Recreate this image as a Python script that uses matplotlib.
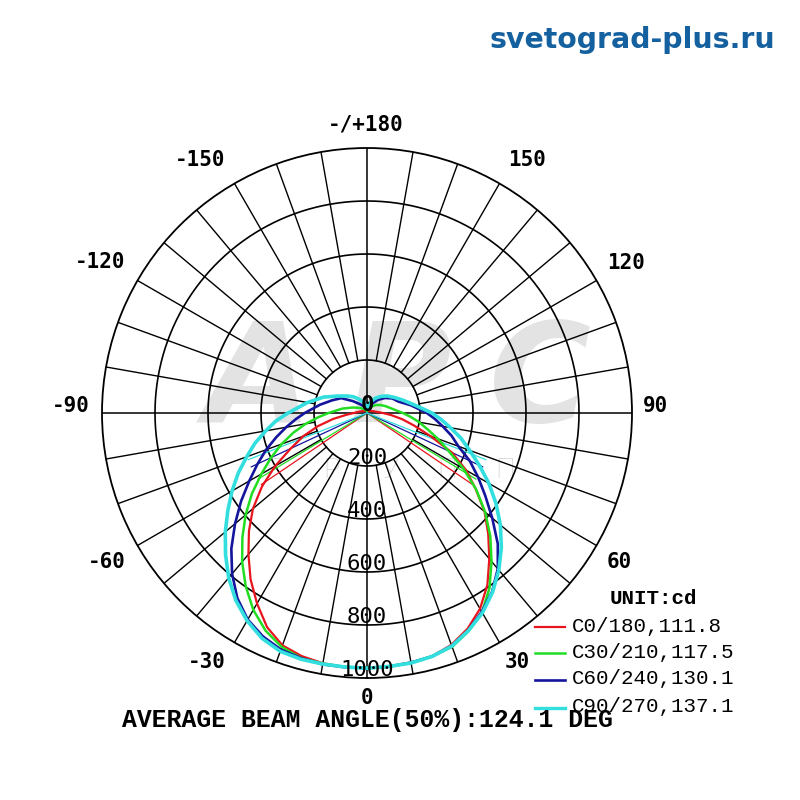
import numpy as np
import matplotlib
matplotlib.use("Agg")
import matplotlib.pyplot as plt

# ---------------- data ----------------
gamma = [0, 5, 10, 15, 20, 25, 30, 35, 40, 45, 50, 55, 60, 65, 70, 75, 80, 85, 90,
         100, 110, 120, 130, 140, 150, 160, 170, 180]

# C0/180 (red)
red_left = [962, 962, 959, 950, 933, 892, 830, 766, 696, 630, 562, 484, 400, 318, 256, 192, 130, 78, 50,
            30, 20, 15, 12, 10, 10, 10, 10, 10]
red_right = [962, 961, 957, 950, 931, 898, 853, 792, 718, 647, 579, 501, 432, 354, 255, 185, 135, 92, 60,
             32, 22, 16, 12, 10, 10, 10, 10, 10]
# C30/210 (green)
green_left = [962, 962, 960, 958, 940, 906, 858, 798, 733, 665, 598, 530, 460, 400, 343, 288, 235, 185, 145,
              95, 60, 40, 28, 20, 15, 12, 10, 10]
green_right = [962, 961, 957, 950, 939, 908, 868, 806, 731, 658, 582, 503, 420, 340, 285, 236, 200, 165, 135,
               95, 75, 60, 47, 35, 25, 18, 12, 10]
# C60/240 (blue)
blue_left = [963, 963, 963, 958, 950, 930, 900, 853, 792, 724, 650, 580, 513, 456, 405, 355, 310, 270, 235,
             180, 140, 112, 70, 45, 32, 25, 20, 18]
blue_right = [962, 960, 956, 951, 935, 905, 866, 823, 768, 698, 617, 545, 484, 428, 367, 330, 290, 257, 226,
              168, 126, 110, 88, 65, 42, 30, 22, 18]
# C90/270 (cyan)
cyan_left = [963, 962, 962, 962, 957, 938, 905, 863, 812, 755, 698, 641, 588, 536, 483, 437, 388, 345, 298,
             228, 175, 128, 100, 80, 60, 45, 30, 20]
cyan_right = [962, 960, 958, 951, 936, 906, 871, 826, 774, 717, 657, 594, 531, 468, 412, 367, 320, 281, 245,
              180, 143, 118, 100, 82, 65, 48, 32, 20]

series_names = ["C0/180", "C30/210", "C60/240", "C90/270"]
beam_angles = [111.8, 117.5, 130.1, 137.1]
average_beam = 124.1

ring_values = [200, 400, 600, 800, 1000]
angle_labels = ["0", "30", "60", "90", "120", "150", "-/+180", "-150", "-120", "-90", "-60", "-30"]

# ---------------- layout / styles ----------------
colors = ["#e8141e", "#22dd22", "#14149c", "#33dede"]
widths = [1.6, 1.8, 1.9, 2.6]
# label centres in pixels (layout only)
angle_label_px = [(367, 698), (517, 662), (619, 562), (655, 406), (626, 263), (527, 160),
                  (366, 125), (200, 160), (100, 262), (71, 406), (107, 562), (207, 662)]

W = H = 800
fig = plt.figure(figsize=(8, 8), dpi=100)
cx, cy, R = 367, 413, 265
ax = fig.add_axes([(cx - R) / W, (H - cy - R) / H, 2 * R / W, 2 * R / H], projection="polar")
ax.set_theta_zero_location("S")
ax.set_theta_direction(1)
ax.set_ylim(0, 1000)
ax.set_xticks([])
ax.set_yticks([])
ax.grid(False)
ax.set_facecolor("none")
ax.spines["polar"].set_linewidth(1.3)
ax.spines["polar"].set_color("black")

def px(x, y):
    return x / W, 1 - y / H

# watermark (behind everything)
wm_color = "#e3e3e3"
for ch, x in zip("АРС", [258, 400, 540]):
    fig.text(*px(x, 384), ch, fontsize=100, fontweight="bold", style="oblique",
             family="DejaVu Sans", color=wm_color, ha="center", va="center", zorder=-5)
for ch, x in zip("ГРУПП", [273, 332, 390, 447, 505]):
    fig.text(*px(x, 470), ch, fontsize=20, fontweight="light",
             family=["Roboto", "DejaVu Sans"], color="#d0d0d0", ha="center", va="center", zorder=-5)

# grid rings
full = np.linspace(0, 2 * np.pi, 721)
for v in ring_values[:-1]:
    ax.plot(full, np.full_like(full, v), color="black", lw=1.2, zorder=1)
# spokes every 10 degrees
for a in range(0, 360, 10):
    t = np.deg2rad(a)
    if a % 90 == 0:
        ax.plot([t, t], [0, 1000], color="black", lw=1.1, zorder=1)
    else:
        ax.plot([t, t], [ring_values[0], 1000], color="black", lw=1.0, zorder=1)

# curves
curves = [(red_left, red_right), (green_left, green_right),
          (blue_left, blue_right), (cyan_left, cyan_right)]
g = np.array(gamma, dtype=float)
for (left, right), col, lw, ba in zip(curves, colors, widths, beam_angles):
    th = np.deg2rad(np.concatenate([-g[::-1], g[1:]]))
    rr = np.concatenate([np.array(left)[::-1], np.array(right)[1:]])
    half = np.deg2rad(ba / 2)
    hl = 0.5 * max(max(left), max(right))
    ax.plot([0, -half], [0, hl], color=col, lw=0.9, zorder=2)
    ax.plot([0, half], [0, hl], color=col, lw=0.9, zorder=2)
    ax.plot(th, rr, color=col, lw=lw, zorder=3, solid_joinstyle="round")

# radial labels
ax.text(np.pi, 30, "0", fontsize=16, family="DejaVu Sans Mono", fontweight="bold",
        ha="center", va="center", zorder=5)
for v in ring_values:
    ax.text(0, v - 30, str(v), fontsize=16, family="DejaVu Sans Mono",
            ha="center", va="center", zorder=5)

# angle labels
for lab, (x, y) in zip(angle_labels, angle_label_px):
    fig.text(*px(x, y), lab, fontsize=15, family="DejaVu Sans Mono",
             fontweight="bold", ha="center", va="center")

# legend
fig.text(*px(653, 598), "UNIT:cd", fontsize=15, family="Liberation Mono",
         fontweight="bold", ha="center", va="center")
leg_y = [627, 653, 680, 708]
for name, ba, col, lw, y in zip(series_names, beam_angles, colors, widths, leg_y):
    fig.add_artist(plt.Line2D([535 / W, 565 / W], [1 - y / H, 1 - y / H], color=col,
                              lw=min(lw, 2.4), transform=fig.transFigure))
    fig.text(*px(572, y - 1), f"{name},{ba}", fontsize=15, family="Liberation Mono",
             ha="left", va="center")

fig.text(*px(367, 720), f"AVERAGE BEAM ANGLE(50%):{average_beam} DEG", fontsize=17.8,
         family="Liberation Mono", fontweight="bold", ha="center", va="center")

fig.text(*px(632, 40), "svetograd-plus.ru", fontsize=20.4, family="DejaVu Sans",
         fontweight="bold", color="#15609e", ha="center", va="center")

fig.savefig("out.png", dpi=100, facecolor="white")
